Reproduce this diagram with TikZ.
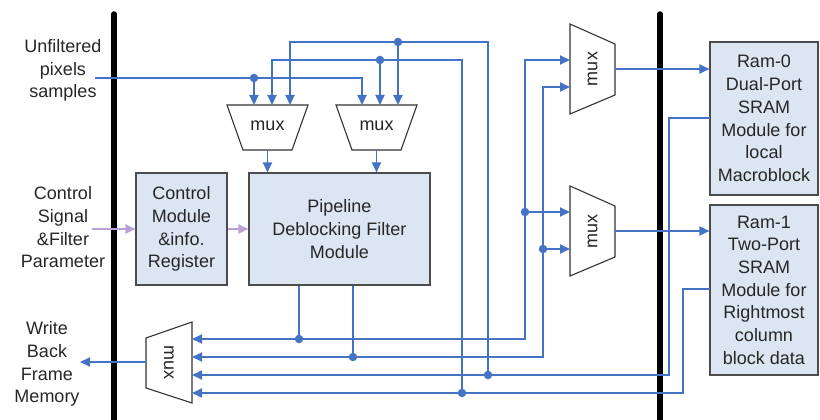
\documentclass[tikz,border=0pt]{standalone}
\usepackage{fontspec}
\setmainfont{Liberation Sans}
\usetikzlibrary{arrows.meta,positioning,calc}
\definecolor{wireblue}{RGB}{68,114,196}
\definecolor{boxfill}{RGB}{220,230,242}
\definecolor{ctlpurple}{RGB}{185,160,215}
\tikzset{
  wire/.style={line width=1.8pt,wireblue},
  wirearr/.style={wire,-{Triangle[length=10pt,width=9pt]}},
  ctlarr/.style={line width=2pt,ctlpurple,-{Triangle[length=10pt,width=9pt]}},
  jdot/.style={circle,fill=wireblue,inner sep=0pt,minimum size=8.5pt},
  lab/.style={align=center,font=\fontsize{18}{22.7}\selectfont,text=black!85},
  blk/.style={lab,rectangle,draw=black!70,line width=1.1pt,fill=boxfill,inner sep=0pt},
  muxbox/.style={draw=black!80,line width=1.1pt,fill=white},
  bus/.style={line width=5.5pt,black,line cap=round}
}
\begin{document}
\begin{tikzpicture}[x=1pt,y=-1pt]
  \useasboundingbox (0,0) rectangle (820,420);

  % system boundary bars
  \coordinate (busLtop) at (114,14);
  \coordinate (busLbot) at (114,426);
  \coordinate (busRtop) at (660,14);
  \coordinate (busRbot) at (660,426);
  \draw[bus] (busLtop) -- (busLbot);
  \draw[bus] (busRtop) -- (busRbot);

  % blocks
  \node[blk,minimum width=91pt,minimum height=112pt] (ctrl) at (181.5,229) {Control\\Module\\\&info.\\Register};
  \node[blk,minimum width=181pt,minimum height=112pt] (pipe) at (339.5,229) {Pipeline\\Deblocking Filter\\Module};
  \node[blk,minimum width=108pt,minimum height=153pt] (ram0) at (764,118.5) {Ram-0\\Dual-Port\\SRAM\\Module for\\local\\Macroblock};
  \node[blk,minimum width=108pt,minimum height=170pt] (ram1) at (764,290) {Ram-1\\Two-Port\\SRAM\\Module for\\Rightmost\\column\\block data};

  % muxes
  \draw[muxbox] (227,105) -- (308,105) -- (292,150) -- (243,150) -- cycle;
  \draw[muxbox] (336,105) -- (417,105) -- (401,150) -- (352,150) -- cycle;
  \draw[muxbox] (570,24) -- (615,44) -- (615,95) -- (570,114) -- cycle;
  \draw[muxbox] (570,186) -- (615,206) -- (615,257) -- (570,276) -- cycle;
  \draw[muxbox] (192,322) -- (192,403) -- (146,388) -- (146,338) -- cycle;
  \node[lab] (muxA) at (267.5,126) {mux};
  \node[lab] (muxB) at (376.5,126) {mux};
  \node[lab,rotate=90] (muxC) at (592.5,69) {mux};
  \node[lab,rotate=90] (muxD) at (592.5,231) {mux};
  \node[lab,rotate=-90] (muxE) at (169,362.5) {mux};

  % mux ports
  \coordinate (aIn1) at (254,105);
  \coordinate (aIn2) at (272,105);
  \coordinate (aIn3) at (290,105);
  \coordinate (aOut) at (267.5,150);
  \coordinate (bIn1) at (362,105);
  \coordinate (bIn2) at (380,105);
  \coordinate (bIn3) at (398,105);
  \coordinate (bOut) at (376.5,150);
  \coordinate (cIn1) at (570,60);
  \coordinate (cIn2) at (570,87);
  \coordinate (cOut) at (615,69);
  \coordinate (dIn1) at (570,212);
  \coordinate (dIn2) at (570,249);
  \coordinate (dOut) at (615,231);
  \coordinate (eIn1) at (192,339);
  \coordinate (eIn2) at (192,357);
  \coordinate (eIn3) at (192,375);
  \coordinate (eIn4) at (192,393);
  \coordinate (eOut) at (146,362);

  % outside labels
  \node[lab] (unf) at (63,70.5) {Unfiltered\\pixels\\samples};
  \node[lab] (ctlsig) at (63,227.5) {Control\\Signal\\\&Filter\\Parameter};
  \node[lab] (wbm) at (47,364) {Write\\Back\\Frame\\Memory};
  \coordinate (unfsrc) at (95,78);
  \coordinate (ctlsrc) at (92,229);
  \coordinate (wbin) at (80,362);
  \coordinate (r0out) at (710,118);
  \coordinate (r0tap) at (669,375);
  \coordinate (r1out) at (710,289);
  \coordinate (r1tap) at (683,393);

  % junctions
  \node[jdot] (jU) at (254,78) {};
  \node[jdot] (jT1) at (398,42) {};
  \node[jdot] (jT2) at (380,60) {};
  \node[jdot] (jP1) at (299,339) {};
  \node[jdot] (jP2) at (353,357) {};
  \node[jdot] (jR0) at (488,375) {};
  \node[jdot] (jR1) at (462,393) {};
  \node[jdot] (jC1) at (525,212) {};
  \node[jdot] (jC2) at (543,249) {};

  % unfiltered samples
  \draw[wirearr] (unfsrc) -| (bIn1);
  \draw[wirearr] (jU) -- (aIn1);
  % feedback from ram
  \draw[wirearr] (jR0) -- (jR0 |- jT1) -| (aIn3);
  \draw[wirearr] (jT1) -- (bIn3);
  \draw[wirearr] (jR1) -- (jR1 |- jT2) -| (aIn2);
  \draw[wirearr] (jT2) -- (bIn2);
  \draw[wirearr] (aOut) -- (aOut |- pipe.north);
  \draw[wirearr] (bOut) -- (bOut |- pipe.north);
  % filter outputs
  \draw[wire] (pipe.south -| jP1) -- (jP1);
  \draw[wire] (pipe.south -| jP2) -- (jP2);
  \draw[wirearr] (jP1) -- (eIn1);
  \draw[wirearr] (jP2) -- (eIn2);
  \draw[wirearr] (jP1) -| (jC1) |- (cIn1);
  \draw[wirearr] (jC1) -- (dIn1);
  \draw[wirearr] (jP2) -| (jC2) |- (cIn2);
  \draw[wirearr] (jC2) -- (dIn2);
  \draw[wirearr] (cOut) -- (cOut -| ram0.west);
  \draw[wirearr] (dOut) -- (dOut -| ram1.west);
  \draw[wirearr] (r0out) -| (r0tap) -- (eIn3);
  \draw[wirearr] (r1out) -| (r1tap) -- (eIn4);
  \draw[wirearr] (eOut) -- (wbin);
  % control path
  \draw[ctlarr] (ctlsrc) -- (ctrl.west);
  \draw[ctlarr] (ctrl) -- (pipe);
\end{tikzpicture}
\end{document}
